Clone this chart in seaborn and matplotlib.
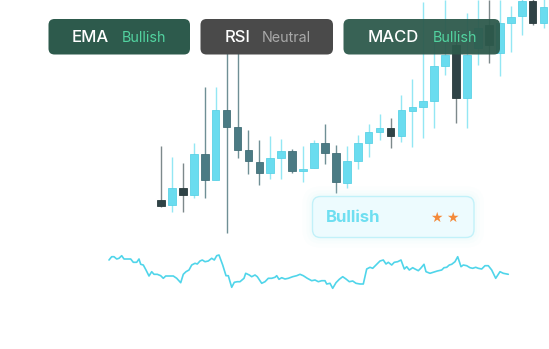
import numpy as np
import pandas as pd
import matplotlib
matplotlib.use("Agg")
import matplotlib.pyplot as plt
from matplotlib.patches import FancyBboxPatch
import seaborn as sns

# ---------------- data ----------------
opens  = [40.3, 34.7, 52.3, 44.7, 86.0, 60.0, 129.7, 112.7, 90.0, 78.3,
          67.0, 82.0, 89.3, 69.3, 71.7, 97.0, 86.7, 57.3, 79.3, 97.3,
          108.3, 112.0, 104.3, 129.3, 133.3, 139.3, 174.3, 195.0, 141.7, 192.0,
          215.0, 186.7, 216.7, 224.0, 239.3, 217.3]
closes = [34.3, 52.0, 44.7, 86.0, 60.0, 129.7, 113.3, 89.7, 78.7, 66.7,
          81.7, 89.3, 69.3, 71.3, 97.0, 86.7, 58.0, 79.3, 96.7, 108.0,
          111.7, 104.3, 130.0, 133.3, 139.3, 174.3, 185.0, 141.7, 185.0, 212.0,
          195.0, 216.7, 223.3, 239.3, 216.7, 232.7]
highs  = [94.3, 83.3, 76.7, 96.7, 153.3, 153.3, 200.0, 195.0, 110.0, 100.0,
          104.3, 100.7, 90.7, 94.3, 100.0, 116.0, 95.0, 94.0, 105.0, 116.0,
          125.7, 122.0, 145.0, 161.0, 238.0, 200.0, 240.0, 205.0, 226.7, 240.0,
          240.0, 240.0, 234.0, 245.0, 245.0, 245.0]
lows   = [33.0, 28.3, 28.3, 41.7, 41.7, 60.0, 6.7, 81.7, 65.7, 54.7,
          61.3, 61.3, 66.7, 58.0, 71.7, 75.7, 46.7, 52.3, 71.0, 82.7,
          99.7, 91.7, 98.3, 93.3, 102.3, 112.0, 165.0, 117.3, 112.3, 175.0,
          177.3, 164.0, 188.3, 205.0, 215.0, 212.0]
# candles drawn in the darkest shade (strong bearish)
strong_bear = [0, 2, 21, 27, 30, 34]

rsi_t = [0, 2.7, 5, 7.7, 10, 12.7, 15, 18.3, 21.7, 24.3, 27.7, 30, 31.7, 34.3, 37, 40,
         42.7, 45, 48.3, 51.7, 54.3, 56.7, 61, 64.3, 67.7, 71.7, 74.3, 77, 80, 82.7,
         86, 88.3, 91, 93.3, 96, 99.3, 102.7, 105.3, 107.7, 110, 113.7, 117, 119.3,
         122.7, 125.3, 128.3, 131, 135, 136.7, 140.3, 142.7, 146, 148.3, 152.7, 156,
         159.3, 162.7, 166, 167.7, 170, 172.7, 176, 179.3, 183.7, 187.7, 191, 194.3,
         198.3, 202.7, 206, 209.3, 212.7, 216, 217.7, 221, 223.7, 227, 230.3, 233.7,
         237, 240.3, 243.7, 247, 251, 254.3, 257.7, 261, 263.7, 267, 271, 274.3, 277,
         279.3, 282.7, 285.3, 288.7, 292, 295.3, 297.7, 300.3, 303.7, 306, 309.3,
         311.7, 315, 317, 321, 324.3, 328.3, 332.7, 335, 337.7, 340.3, 342.7, 346,
         348.7, 352, 354.3, 357.7, 361, 363.7, 366.7, 369.3, 372.7, 376, 379.3,
         382.7, 386.7, 391, 394.3, 399.3]
rsi_v = [70, 73.3, 73.3, 71, 71.7, 74.3, 71, 71, 71, 67.7, 67.7, 71, 65.7, 65, 60, 54,
         58.3, 55.7, 55.7, 54.3, 51.7, 54, 54, 54, 51.7, 47.3, 55.7, 58.3, 60, 65,
         66.7, 66, 69, 70, 68.3, 69, 71.7, 70, 74.3, 75, 65, 54.3, 54.3,
         42.7, 47.7, 48.3, 48.3, 51.7, 56.7, 55, 53.3, 55, 53.3, 46.7, 48.3,
         51.7, 51.7, 52.7, 54.3, 50.7, 52.3, 51, 51.7, 53.3, 54.3, 55.7, 54.3,
         51.7, 49.3, 50, 48.3, 49.3, 49.3, 46, 46.7, 41.7, 47.3, 50.7, 53.3,
         51, 48.3, 49, 46.7, 46, 46, 61, 62.7, 61.7, 65, 69, 70, 66,
         67.7, 65, 67.7, 68.3, 70, 61, 63.3, 60, 62.3, 61, 59.3,
         61.7, 65.7, 58.3, 56.7, 57.7, 59, 60, 62.3, 62.7, 65, 65.7, 68.3,
         73.3, 63.3, 65, 64.3, 62.3, 61.7, 62.7, 61.7, 61, 64.3, 64.3,
         60, 51.7, 58.3, 56.7, 55.7]

badge_names   = ["EMA", "RSI", "MACD"]
badge_signals = ["Bullish", "Neutral", "Bullish"]
card_label = "Bullish"
card_stars = 2

# ---------------- styling ----------------
sns.set_theme(style="white")
plt.rcParams["font.family"] = ["Inter", "DejaVu Sans"]

W, H = 549, 349
fig = plt.figure(figsize=(W / 100, H / 100), dpi=100)
fig.patch.set_facecolor("white")

UP_BODY, UP_EDGE, UP_WICK = "#6adcef", "#5cd2e6", "#93e7f4"
DN_BODY, DN_EDGE, DN_WICK = "#4b7b84", "#436f78", "#6f8f95"
SB_BODY, SB_EDGE, SB_WICK = "#2f4346", "#2a3b3d", "#7d898b"

# candle axes
ax = fig.add_axes([0, 0, 1, 1])
ax.set_xlim(-14.73, -14.73 + W / 10.93)
ax.set_ylim(-109, 240)
ax.axis("off")

df = pd.DataFrame({"open": opens, "close": closes, "high": highs, "low": lows})
df["idx"] = np.arange(len(df))
body_c, edge_c, wick_c = [], [], []
for i, r in df.iterrows():
    if i in strong_bear:
        body_c.append(SB_BODY); edge_c.append(SB_EDGE); wick_c.append(SB_WICK)
    elif r["close"] >= r["open"]:
        body_c.append(UP_BODY); edge_c.append(UP_EDGE); wick_c.append(UP_WICK)
    else:
        body_c.append(DN_BODY); edge_c.append(DN_EDGE); wick_c.append(DN_WICK)

ax.vlines(df["idx"], df["low"], df["high"], colors=wick_c, linewidth=1.0, zorder=1)
bottoms = np.minimum(df["open"], df["close"])
heights = np.maximum(np.abs(df["close"] - df["open"]), 1.5)
ax.bar(df["idx"], heights, bottom=bottoms, width=0.7, color=body_c,
       edgecolor=edge_c, linewidth=0.6, zorder=2)

# RSI axes
ax2 = fig.add_axes([0, 0, 1, 1])
ax2.set_xlim(-109, W - 109)
ax2.set_ylim(330 - H, 330)
ax2.axis("off")
ax2.patch.set_alpha(0)
sns.lineplot(x=rsi_t, y=rsi_v, ax=ax2, color="#50d5ea", linewidth=1.2, sort=False)

# overlay axes for badges (pixel layout)
ov = fig.add_axes([0, 0, 1, 1], zorder=5)
ov.set_xlim(0, W)
ov.set_ylim(H, 0)
ov.axis("off")
ov.patch.set_alpha(0)

def rbox(x0, y0, x1, y1, fc, ec="none", r=6, alpha=1.0, lw=0, z=1):
    p = FancyBboxPatch((x0 + r, y0 + r), (x1 - x0) - 2 * r, (y1 - y0) - 2 * r,
                       boxstyle=f"round,pad={r}", fc=fc, ec=ec, lw=lw,
                       alpha=alpha, zorder=z, mutation_aspect=1)
    ov.add_patch(p)

badges = [
    (48.5, 190, "#2d5a4c", 1.0, 72, 121.5, "#52d3a0"),
    (200.5, 333, "#4a4a4a", 1.0, 225, 261.5, "#a9a9a9"),
    (343.5, 500, "#2d5a4c", 0.95, 368, 432.5, "#52d3a0"),
]
for (bx0, bx1, fc, al, tx, sx, sc), name, sig in zip(badges, badge_names, badge_signals):
    rbox(bx0, 19, bx1, 54.5, fc, r=6, alpha=al)
    ov.text(tx, 37.5, name, color="white", fontsize=12, fontweight="medium",
            ha="left", va="center", zorder=3)
    ov.text(sx, 37.5, sig, color=sc, fontsize=10.3, ha="left", va="center", zorder=3)

# glow + card
for pad, a in [(10, 0.05), (6, 0.07), (3, 0.10)]:
    rbox(312.5 - pad, 196.5 - pad, 474 + pad, 237.5 + pad, "#c9f4fb", r=8 + pad, alpha=a)
rbox(312.5, 196.5, 474, 237.5, "#edfbfe", ec="#c2f1f9", r=8, lw=1.0, z=2)
ov.text(326, 218, card_label, color="#6fdff1", fontsize=12, fontweight="bold",
        ha="left", va="center", zorder=3)
for k in range(card_stars):
    ov.text(436 + 16 * k, 217.5, "★", color="#f48a3a", fontsize=10,
            family="DejaVu Sans", ha="center", va="center", zorder=3)

fig.savefig("out.png", dpi=100, facecolor="white")
